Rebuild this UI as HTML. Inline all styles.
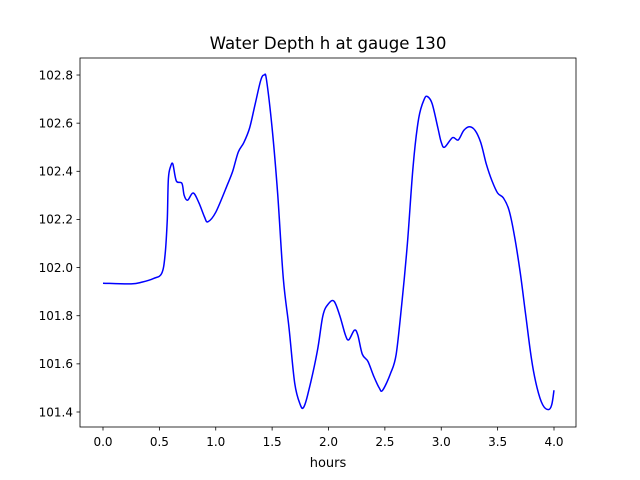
<!DOCTYPE html>
<html><head><meta charset="utf-8"><style>
body{margin:0;background:#fff;}
svg{display:block;font-family:"DejaVu Sans","Liberation Sans",sans-serif;}
</style></head><body>
<svg id="chart" width="640" height="480" xmlns="http://www.w3.org/2000/svg">
<rect width="640" height="480" fill="#fff"/>
<text x="328" y="49" text-anchor="middle" font-size="16.6">Water Depth h at gauge 130</text>
<g id="ticks"></g>
<path id="line" fill="none" stroke="#0000ff" stroke-width="1.5" stroke-linejoin="round"/>
<rect x="80" y="58" width="496" height="369" fill="none" stroke="#000" stroke-width="0.8"/>
<text x="328" y="467" text-anchor="middle" font-size="13">hours</text>
</svg>
<script>
const xs=[0,0.25,0.35,0.45,0.52,0.55,0.57,0.58,0.6,0.62,0.65,0.7,0.72,0.75,0.8,0.85,0.9,0.93,1.0,1.1,1.15,1.2,1.25,1.3,1.35,1.4,1.43,1.45,1.5,1.55,1.6,1.65,1.7,1.75,1.78,1.82,1.9,1.95,2.0,2.05,2.1,2.15,2.18,2.23,2.26,2.3,2.35,2.4,2.45,2.48,2.55,2.6,2.65,2.7,2.75,2.8,2.85,2.88,2.92,2.97,3.0,3.03,3.1,3.15,3.2,3.25,3.3,3.35,3.4,3.45,3.5,3.55,3.6,3.65,3.7,3.75,3.8,3.85,3.9,3.95,3.98,4.0];
const ys=[101.935,101.932,101.94,101.955,101.975,102.05,102.2,102.37,102.42,102.43,102.36,102.35,102.3,102.28,102.31,102.27,102.21,102.19,102.23,102.34,102.40,102.48,102.52,102.58,102.68,102.78,102.80,102.78,102.58,102.3,101.95,101.75,101.52,101.43,101.42,101.48,101.65,101.80,101.85,101.86,101.80,101.72,101.70,101.74,101.72,101.64,101.61,101.55,101.5,101.49,101.56,101.64,101.85,102.1,102.42,102.62,102.70,102.71,102.68,102.58,102.52,102.50,102.54,102.53,102.57,102.585,102.57,102.52,102.43,102.36,102.31,102.29,102.24,102.13,101.98,101.80,101.62,101.50,101.43,101.41,101.43,101.49];
const xTicks=[0,0.5,1,1.5,2,2.5,3,3.5,4];
const xTickLabels=["0.0","0.5","1.0","1.5","2.0","2.5","3.0","3.5","4.0"];
const yTicks=[101.4,101.6,101.8,102.0,102.2,102.4,102.6,102.8];
const yTickLabels=["101.4","101.6","101.8","102.0","102.2","102.4","102.6","102.8"];
const X=v=>103+v*112.75;
const Y=v=>412-(v-101.4)/0.2*48.14;
const NS="http://www.w3.org/2000/svg";
const g=document.getElementById('ticks');
function mk(tag,attrs){const e=document.createElementNS(NS,tag);for(const k in attrs)e.setAttribute(k,attrs[k]);g.appendChild(e);return e;}
xTicks.forEach((t,i)=>{
 const l=mk('line',{x1:X(t),x2:X(t),y1:427,y2:430.5,stroke:'#000','stroke-width':0.8});
 
 
 const tx=mk('text',{x:X(t),y:446,'text-anchor':'middle','font-size':12});
 tx.textContent=xTickLabels[i];
 
 
});
yTicks.forEach((t,i)=>{
 const l=mk('line',{x1:76.5,x2:80,y1:Y(t),y2:Y(t),stroke:'#000','stroke-width':0.8});
 
 
 const tx=mk('text',{x:73,y:Y(t)+4.3,'text-anchor':'end','font-size':12});
 tx.textContent=yTickLabels[i];
 
 
});
const P=xs.map((x,i)=>[X(x),Y(ys[i])]);
let d='M'+P[0][0].toFixed(1)+','+P[0][1].toFixed(1);
for(let i=0;i<P.length-1;i++){
 const p0=P[Math.max(0,i-1)],p1=P[i],p2=P[i+1],p3=P[Math.min(P.length-1,i+2)];
 const c1=[p1[0]+(p2[0]-p0[0])/6,p1[1]+(p2[1]-p0[1])/6];
 const c2=[p2[0]-(p3[0]-p1[0])/6,p2[1]-(p3[1]-p1[1])/6];
 d+='C'+c1.map(v=>v.toFixed(1)).join(',')+' '+c2.map(v=>v.toFixed(1)).join(',')+' '+p2.map(v=>v.toFixed(1)).join(',');
}
document.getElementById('line').setAttribute('d',d);
</script>
</body></html>
